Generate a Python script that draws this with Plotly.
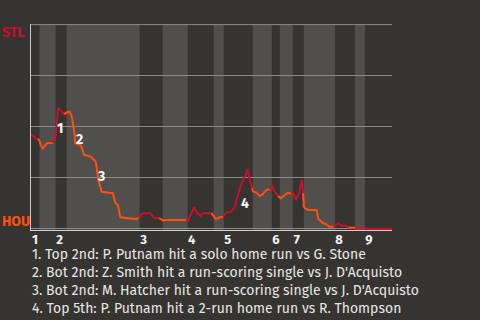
import plotly.graph_objects as go

# ---- data ----
play = [0.0, 1.27, 2.33, 2.83, 3.27, 3.93, 5.27, 7.17, 8.17, 9.07, 9.93, 11.07, 11.83,
        12.83, 13.6, 14.4, 14.73, 16.6, 17.73, 19.93, 21.5, 21.83, 22.27, 23.5, 25.6,
        27.27, 28.0, 28.93, 29.73, 31.73, 34.5, 35.07, 35.6, 36.17, 37.27, 39.73, 41.17,
        42.6, 43.93, 44.5, 51.73, 52.27, 53.4, 54.27, 55.07, 56.4, 57.27, 60.07, 60.83,
        61.5, 62.83, 63.93, 65.07, 66.73, 67.83, 68.4, 70.07, 71.17, 72.07, 72.83, 73.6,
        73.93, 75.07, 76.17, 77.07, 78.4, 79.5, 80.2, 81.17, 82.27, 83.07, 84.5, 85.6,
        86.73, 87.27, 88.17, 89.27, 90.07, 90.6, 90.83, 91.17, 92.27, 95.07, 95.6, 97.07,
        98.17, 99.27, 100.6, 101.17, 102.27, 103.4, 104.83, 105.6, 107.83, 111.17, 112.27,
        120.17]
stl_wp = [0.463, 0.451, 0.441, 0.432, 0.410, 0.395, 0.419, 0.422, 0.460, 0.593, 0.577,
          0.561, 0.570, 0.574, 0.549, 0.476, 0.419, 0.410, 0.362, 0.354, 0.330, 0.305,
          0.248, 0.182, 0.180, 0.175, 0.130, 0.117, 0.057, 0.055, 0.049, 0.047, 0.057,
          0.062, 0.077, 0.077, 0.052, 0.055, 0.041, 0.044, 0.044, 0.041, 0.077, 0.106,
          0.085, 0.064, 0.077, 0.077, 0.060, 0.049, 0.057, 0.060, 0.080, 0.085, 0.109,
          0.142, 0.223, 0.256, 0.292, 0.240, 0.199, 0.183, 0.178, 0.161, 0.169, 0.191,
          0.195, 0.215, 0.182, 0.161, 0.150, 0.166, 0.178, 0.171, 0.175, 0.142, 0.175,
          0.240, 0.175, 0.110, 0.101, 0.093, 0.093, 0.050, 0.030, 0.024, 0.011, 0.011,
          0.015, 0.028, 0.016, 0.016, 0.006, 0.006, 0.006, 0.0, 0.0]

half_starts = [0, 2.83, 8.17, 11.83, 36.17, 43.83, 52.17, 60.83, 64.17, 73.83, 80.17,
               82.83, 87.17, 90.83, 101.17, 107.83, 111.17]
game_end = 120.17
inning_labels = ["1", "2", "3", "4", "5", "6", "7", "8", "9"]

event_nums = ["1", "2", "3", "4"]
event_label_x = [9.93, 16.07, 23.27, 71.4]
event_label_y = [0.492, 0.438, 0.256, 0.126]
event_texts = [
    "1. Top 2nd: P. Putnam hit a solo home run vs G. Stone",
    "2. Bot 2nd: Z. Smith hit a run-scoring single vs J. D'Acquisto",
    "3. Bot 2nd: M. Hatcher hit a run-scoring single vs J. D'Acquisto",
    "4. Top 5th: P. Putnam hit a 2-run home run vs R. Thompson",
]

# ---- style ----
BG = "#363430"
BAND = "#504f4c"
GRID = "#8a8a8a"
STL_C = "#c8102e"
HOU_C = "#ff4f14"
FONT = "Fira Sans, Lato, sans-serif"

fig = go.Figure()

shapes = []
ends = half_starts[1:] + [game_end]
for i, (s, e) in enumerate(zip(half_starts, ends)):
    if i % 2 == 1:
        shapes.append(dict(type="rect", xref="x", yref="paper", x0=s, x1=e, y0=0, y1=1,
                           fillcolor=BAND, line_width=0, layer="below"))
# top grid line (100% STL)
shapes.append(dict(type="line", xref="paper", yref="y", x0=0, x1=1, y0=1.0, y1=1.0,
                   line=dict(color=GRID, width=1), layer="below"))

for i, (s, e) in enumerate(zip(half_starts, ends)):
    idx = [k for k, x in enumerate(play) if s <= x <= e]
    prev = [k for k, x in enumerate(play) if x < s]
    if prev:
        idx = [prev[-1]] + idx
    xs = [play[k] for k in idx]
    ys = [stl_wp[k] for k in idx]
    fig.add_trace(go.Scatter(x=xs, y=ys, mode="lines",
                             line=dict(color=STL_C if i % 2 == 0 else HOU_C, width=2),
                             hoverinfo="skip", showlegend=False))

annotations = []
for n, x, y in zip(event_nums, event_label_x, event_label_y):
    annotations.append(dict(x=x, y=y, xref="x", yref="y", text=n, showarrow=False,
                            font=dict(family=FONT, size=14, color="#f2f2f2", weight="bold")))

annotations.append(dict(x=0, y=1, xref="paper", yref="paper", xanchor="left", yanchor="top",
                        text="STL", showarrow=False, xshift=-31, yshift=2,
                        font=dict(family=FONT, size=14, color=STL_C, weight="bold")))
annotations.append(dict(x=0, y=0, xref="paper", yref="paper", xanchor="left", yanchor="bottom",
                        text="HOU", showarrow=False, xshift=-31, yshift=-2,
                        font=dict(family=FONT, size=14, color=HOU_C, weight="bold")))

for j, t in enumerate(event_texts):
    annotations.append(dict(x=0, y=0, xref="paper", yref="paper", xanchor="left",
                            yanchor="middle", text=t, showarrow=False,
                            xshift=-1, yshift=-24 - 18 * j,
                            font=dict(family=FONT, size=14, color="#e6e6e6")))

fig.update_layout(
    width=480, height=320,
    margin=dict(l=31, r=88, t=24, b=90),
    paper_bgcolor=BG, plot_bgcolor=BG,
    shapes=shapes, annotations=annotations,
    xaxis=dict(range=[0, game_end], showgrid=False, zeroline=False,
               tickvals=[half_starts[k] for k in range(0, len(half_starts), 2)],
               ticktext=inning_labels, ticks="", ticklabelshift=4, ticklabelstandoff=-3,
               tickfont=dict(family=FONT, size=13, color="#f2f2f2", weight="bold"),
               showline=True, linecolor="#cfcfcf", linewidth=1),
    yaxis=dict(range=[-0.005, 1.003], dtick=0.25, showticklabels=False, showgrid=True,
               gridcolor=GRID, gridwidth=1, zeroline=False,
               showline=True, linecolor="#c8c8c8", linewidth=1, ticks=""),
)

fig.write_html("out.html")
